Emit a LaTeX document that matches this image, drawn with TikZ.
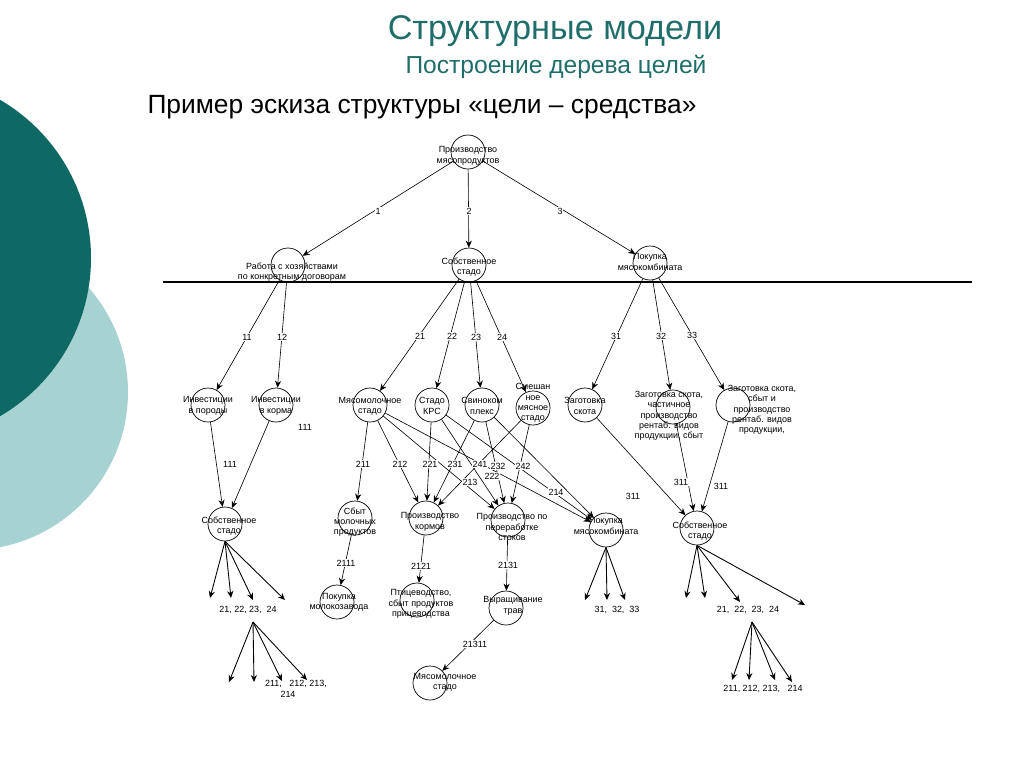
\documentclass[tikz,border=0pt]{standalone}
\usepackage{fontspec}
\setmainfont{Liberation Sans}
\usetikzlibrary{arrows.meta}
\definecolor{dteal}{HTML}{0E6863}
\definecolor{lteal}{HTML}{A6D3D1}
\definecolor{ttl}{HTML}{1F6E6A}
\begin{document}
\begin{tikzpicture}[x=0.02cm,y=-0.02cm,
  c/.style={circle,draw,line width=0.4pt,minimum size=34*0.02cm,inner sep=0pt},
  t/.style={font=\fontsize{5.1}{5.9}\selectfont,align=center,inner sep=0pt},
  e/.style={-{Stealth[length=4pt,width=3.5pt]},line width=0.35pt},
  f/.style={-{Stealth[length=4pt,width=3.5pt]},line width=0.5pt}]
\useasboundingbox (0,0) rectangle (1024,768);
\fill[white] (0,0) rectangle (1024,768);
\begin{scope}
\clip (0,0) rectangle (1024,768);
\fill[lteal] (-30,392) circle (158);
\fill[dteal] (-92,258) circle (183);
\end{scope}
\node[text=ttl,font=\fontsize{19.5}{22}\selectfont] (title) at (555,31) {Структурные модели};
\node[text=ttl,font=\fontsize{14}{16}\selectfont] (sub) at (556,67) {Построение дерева целей};
\node[font=\fontsize{15}{17}\selectfont] (ex) at (422,107) {Пример эскиза структуры «цели – средства»};
% circles
\foreach \n/\x/\y in {P/468/152,A/288/265,B/469/265,C/650/263,
  I1/208/405,I2/276/405,M/370/405,K/432/405,S/482/405,Sm/533/408,Z/585/405,Z2/673/407,Z3/733/405,
  SA/225/524,Sb/355/518,PK/426/518,PP/508/520,PM/606/530,SB/697/528,
  Pm/337/602,Pt/417/600,V/506/608,My/430/683}
  {\node[c] (\n) at (\x,\y) {};}
% texts
\node[t] (tP) at (468,156) {Производство\\мясопродуктов};
\node[t] (tA) at (292,272) {Работа с хозяйствами\\по конкретным договорам};
\node[t] (tB) at (469,267) {Собственное\\стадо};
\node[t] (tC) at (650,262) {Покупка\\мясокомбината};
\node[t] (tI1) at (208,406) {Инвестиции\\в породы};
\node[t] (tI2) at (276,406) {Инвестиции\\в корма};
\node[t] (tM) at (370,406) {Мясомолочное\\стадо};
\node[t] (tK) at (432,406) {Стадо\\КРС};
\node[t] (tS) at (482,406) {Свиноком\\плекс};
\node[t] (tSm) at (533,403) {Смешан\\ное\\мясное\\стадо};
\node[t] (tZ) at (585,406) {Заготовка\\скота};
\node[t] (tZ2) at (669,416) {Заготовка скота,\\частичное\\производство\\рентаб. видов\\продукции, сбыт};
\node[t] (tZ3) at (762,410) {Заготовка скота,\\сбыт и\\производство\\рентаб. видов\\продукции,};
\node[t] (tSA) at (229,526) {Собственное\\стадо};
\node[t] (tSb) at (355,522) {Сбыт\\молочных\\продуктов};
\node[t] (tPK) at (430,522) {Производство\\кормов};
\node[t] (tPP) at (512,527) {Производство по\\переработке\\стоков};
\node[t] (tPM) at (606,526) {Покупка\\мясокомбината};
\node[t] (tSB) at (700,531) {Собственное\\стадо};
\node[t] (tPm) at (339,602) {Покупка\\молокозавода};
\node[t] (tPt) at (421,604) {Птицеводство,\\сбыт продуктов\\прицеводства};
\node[t] (tV) at (513,606) {Выращивание\\трав};
\node[t] (tMy) at (445,682) {Мясомолочное\\стадо};
% line
\coordinate (h1) at (163,282); \coordinate (h2) at (972,282);
\draw[line width=0.6pt] (h1) -- (h2);
% edges
\draw[e] (P) -- (A); \draw[e] (P) -- (B); \draw[e] (P) -- (C);
\draw[e] (A) -- (I1); \draw[e] (A) -- (I2);
\draw[e] (B) -- (M); \draw[e] (B) -- (K); \draw[e] (B) -- (S); \draw[e] (B) -- (Sm);
\draw[e] (C) -- (Z); \draw[e] (C) -- (Z2); \draw[e] (C) -- (Z3);
\draw[e] (I1) -- (SA); \draw[e] (I2) -- (SA);
\draw[e] (M) -- (Sb); \draw[e] (M) -- (PK); \draw[e] (M) -- (PP); \draw[e] (M) -- (PM);
\draw[e] (K) -- (PK); \draw[e] (K) -- (PP); \draw[e] (K) -- (PM);
\draw[e] (S) -- (PK); \draw[e] (S) -- (PP); \draw[e] (S) -- (PM);
\draw[e] (Sm) -- (PK); \draw[e] (Sm) -- (PP);
\draw[e] (Z) -- (SB); \draw[e] (Z2) -- (SB); \draw[e] (Z3) -- (SB);
\draw[e] (Sb) -- (Pm); \draw[e] (PK) -- (Pt); \draw[e] (PP) -- (V); \draw[e] (V) -- (My);
% edge labels
\foreach \s/\x/\y in {1/378/211,2/469/211,3/560/211,11/247/337,12/282/337,21/420/336,22/452/336,23/476/337,24/502/337,
  31/616/336,32/661/336,33/692/335,111/305/427,111/230/464,211/363/464,212/400/464,221/430/464,231/455/464,241/480/464,
  232/498/466,242/523/466,222/492/476,213/470/482,214/556/492,311/633/496,311/681/482,311/721/486,
  2111/346/563,2121/421/566,2131/508/565,21311/475/644}
  {\node[t,fill=white,inner sep=0.5pt] at (\x,\y) {\s};}
% fans
\coordinate (fa) at (SA.south);
\foreach \x/\y in {210/598,231/598,253/600,285/600} \draw[f] (fa) -- (\x,\y);
\node[t] (la) at (248,610) {21, 22, 23,\ \ 24};
\coordinate (fb) at (253,622);
\foreach \x/\y in {229/682,254/682,282/681,307/680} \draw[f] (fb) -- (\x,\y);
\node[t] (lb) at (296,684) {211,\ \ \ 212,\ 213,};
\node[t] (lb2) at (288,694) {214};
\coordinate (fc) at (PM.south);
\foreach \x/\y in {585/600,607/600,625/600} \draw[f] (fc) -- (\x,\y);
\node[t] (lc) at (617,610) {31,\ \ 32,\ \ 33};
\coordinate (fd) at (SB.south);
\foreach \x/\y in {686/598,705/598,740/602,805/605} \draw[f] (fd) -- (\x,\y);
\node[t] (ld) at (748,610) {21,\ \ 22,\ \ 23,\ \ 24};
\coordinate (fe) at (752,622);
\foreach \x/\y in {732/680,749/680,775/680,792/682} \draw[f] (fe) -- (\x,\y);
\node[t] (le) at (763,689) {211, 212, 213,\ \ \ 214};
\end{tikzpicture}
\end{document}
